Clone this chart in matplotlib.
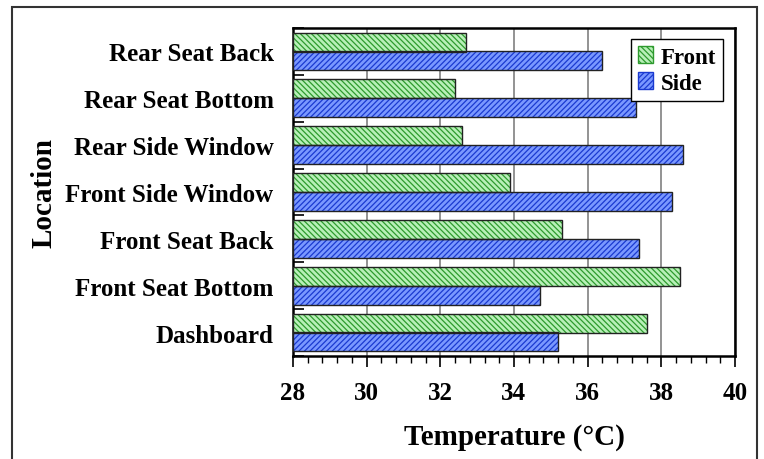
import matplotlib
matplotlib.use("Agg")
import matplotlib.pyplot as plt
from matplotlib.patches import Rectangle, Patch
from matplotlib.ticker import MultipleLocator
import numpy as np

locations = ["Rear Seat Back", "Rear Seat Bottom", "Rear Side Window",
             "Front Side Window", "Front Seat Back", "Front Seat Bottom", "Dashboard"]
front = [32.7, 32.4, 32.6, 33.9, 35.3, 38.5, 37.6]
side = [36.4, 37.3, 38.6, 38.3, 37.4, 34.7, 35.2]
xmin, xmax = 28, 40

plt.rcParams["font.family"] = ["Liberation Serif", "DejaVu Serif"]
plt.rcParams["font.weight"] = "bold"
plt.rcParams["hatch.linewidth"] = 0.9

fig = plt.figure(figsize=(7.64, 4.60), dpi=100)
ax = fig.add_axes([0.3835, 0.224, 0.5785, 0.713])

# outer frame around the whole chart
fig.patches.append(Rectangle((12 / 764, -0.05), (757 - 12) / 764, 1.05 - 8 / 460,
                             transform=fig.transFigure, fill=False,
                             edgecolor="#333333", linewidth=1.5))

y = np.arange(len(locations))
h = 0.405
green_face, green_hatch = "#b8f0b8", "#2e9a2e"
blue_face, blue_hatch = "#7a98ff", "#1a3ad0"
front_pat, side_pat = "\\\\\\\\\\\\", "//////"

# widths measured from the 28 baseline
front_w = [v - xmin for v in front]
side_w = [v - xmin for v in side]

ax.barh(y - 0.2, front_w, height=h, left=xmin, color=green_face,
        edgecolor=green_hatch, hatch=front_pat, linewidth=0, zorder=3)
ax.barh(y - 0.2, front_w, height=h, left=xmin, fill=False,
        edgecolor="#222222", linewidth=1.0, zorder=4)
ax.barh(y + 0.2, side_w, height=h, left=xmin, color=blue_face,
        edgecolor=blue_hatch, hatch=side_pat, linewidth=0, zorder=3)
ax.barh(y + 0.2, side_w, height=h, left=xmin, fill=False,
        edgecolor="#222222", linewidth=1.0, zorder=4)

ax.set_xlim(xmin, xmax)
ax.set_ylim(len(locations) - 0.5, -0.5)

ax.xaxis.set_major_locator(MultipleLocator(2))
ax.xaxis.set_minor_locator(MultipleLocator(0.4))
ax.tick_params(axis="x", which="major", direction="out", length=8, width=1.2,
               labelsize=18, pad=10)
ax.tick_params(axis="x", which="minor", direction="out", length=5, width=1.0)
ax.grid(axis="x", which="major", color="#808080", linewidth=1.2, zorder=1)

ax.set_yticks(y)
ax.set_yticklabels(locations)
ax.set_yticks(np.arange(len(locations) + 1) - 0.5, minor=True)
ax.tick_params(axis="y", which="major", length=0, labelsize=18, pad=14)
ax.tick_params(axis="y", which="minor", direction="in", length=8, width=1.2)

for s in ax.spines.values():
    s.set_linewidth(1.8)
    s.set_color("black")

ax.set_xlabel("Temperature (°C)", fontsize=21, fontweight="bold", labelpad=14)
ax.set_ylabel("Location", fontsize=21, fontweight="bold", labelpad=6)

handles = [Patch(facecolor=green_face, edgecolor=green_hatch, hatch=front_pat, label="Front"),
           Patch(facecolor=blue_face, edgecolor=blue_hatch, hatch=side_pat, label="Side")]
leg = ax.legend(handles=handles, loc="upper right", bbox_to_anchor=(0.973, 0.965),
                fontsize=16.5, fancybox=False, framealpha=1, edgecolor="black",
                handlelength=0.65, handleheight=0.75, handletextpad=0.35,
                borderpad=0.3, labelspacing=0.2, borderaxespad=0)
leg.get_frame().set_linewidth(1.0)
leg.set_zorder(5)

fig.savefig("out.png", dpi=100)
